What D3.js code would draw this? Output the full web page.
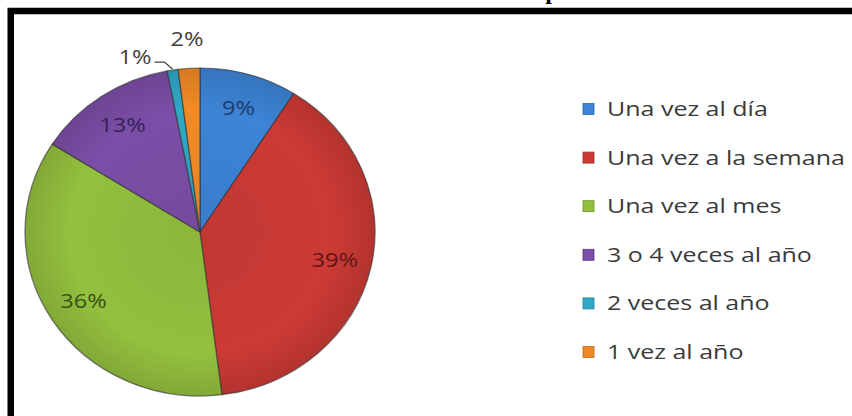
<!DOCTYPE html>
<html>
<head>
<meta charset="utf-8">
<script src="https://cdn.jsdelivr.net/npm/d3@7"></script>
<style>
  html, body { margin: 0; padding: 0; background: #fff; }
  svg { display: block; }
</style>
</head>
<body>
<div id="pie"></div>
<script>
// ---------------- data ----------------
const categories = ["Una vez al día", "Una vez a la semana", "Una vez al mes",
                    "3 o 4 veces al año", "2 veces al año", "1 vez al año"];
const values = [9, 39, 36, 13, 1, 2];
const colors = ["#3c84d6", "#cc3a35", "#93c03e", "#7b4ea7", "#2fa8c6", "#f18a26"];
const labelColors = ["#1d3a66", "#5e1614", "#36541a", "#352257", "#404040", "#404040"];

const width = 852, height = 416;
const cx = 200, cy = 232, R = 175, ry = 164;
const k = ry / R; // vertical squash (tilted pie)

const svg = d3.select("#pie").append("svg")
    .attr("width", width)
    .attr("height", height)
    .attr("viewBox", [0, 0, width, height]);

// title cut off at the top: only a descender shows
svg.append("text")
    .attr("x", 552).attr("y", -1)
    .attr("text-anchor", "middle")
    .attr("font-family", "'Liberation Serif', serif")
    .attr("font-weight", "bold")
    .attr("font-size", 24)
    .attr("fill", "#000")
    .text("p");

// frame (top and left edges visible)
svg.append("path")
    .attr("d", `M10.75,416 V11 H852`)
    .attr("fill", "none")
    .attr("stroke", "#000")
    .attr("stroke-width", 6.5);

// ---------------- gradients for slight 3D look ----------------
const defs = svg.append("defs");
colors.forEach((c, i) => {
  const g = defs.append("radialGradient")
      .attr("id", "g" + i)
      .attr("gradientUnits", "userSpaceOnUse")
      .attr("cx", 0).attr("cy", 0).attr("r", R);
  g.append("stop").attr("offset", "0%").attr("stop-color", d3.color(c).darker(0.15));
  g.append("stop").attr("offset", "75%").attr("stop-color", c);
  g.append("stop").attr("offset", "100%").attr("stop-color", d3.color(c).darker(0.35));
});

// ---------------- pie ----------------
const pie = d3.pie().sort(null).value(d => d)(values);
const arc = d3.arc().innerRadius(0).outerRadius(R);

const gPie = svg.append("g")
    .attr("transform", `translate(${cx},${cy}) scale(1,${k})`);

gPie.selectAll("path")
    .data(pie)
    .join("path")
    .attr("d", arc)
    .attr("fill", (d, i) => `url(#g${i})`)
    .attr("stroke", "#2e2e2e")
    .attr("stroke-opacity", 0.6)
    .attr("stroke-width", 1.3);

// ---------------- labels ----------------
const font = "'Open Sans', sans-serif";
const labelSize = 20;
const stretch = 1.18; // source font is wider than Open Sans at this height
const pt = (r, a) => [cx + r * Math.sin(a), cy - r * Math.cos(a) * k];

const gLab = svg.append("g")
    .attr("font-family", font)
    .attr("font-size", labelSize);

function label(x, y, anchor, i) {
  gLab.append("text")
      .attr("transform", `translate(${x},${y}) scale(${stretch},1)`)
      .attr("text-anchor", anchor)
      .attr("dy", "0.35em")
      .attr("fill", labelColors[i])
      .text(values[i] + "%");
}

// inside labels for large slices
pie.forEach((d, i) => {
  if (values[i] < 5) return;
  const a = (d.startAngle + d.endAngle) / 2;
  const [x, y] = pt(138, a);
  label(x, y, "middle", i);
});

// outside labels for small slices; a crowded one moves left with a leader line
const small = pie.map((d, i) => ({d, i})).filter(o => values[o.i] < 5);
let prevLeft = null;
for (let j = small.length - 1; j >= 0; j--) {
  const {d, i} = small[j];
  const mid = (d.startAngle + d.endAngle) / 2;
  const w = 32;
  let [x, y] = pt(206, mid);
  let anchor = "middle";
  if (prevLeft !== null && x + w / 2 > prevLeft - 4) {
    const [ex, ey] = pt(R + 1, mid);
    gLab.append("polyline")
        .attr("points", [[ex - 18, ey - 7], [ex - 8, ey - 7], [ex, ey]].map(p => p.join(",")).join(" "))
        .attr("fill", "none")
        .attr("stroke", "#404040")
        .attr("stroke-width", 1.3);
    x = ex - 21;
    y = ey - 12;
    anchor = "end";
  }
  label(x, y, anchor, i);
  prevLeft = anchor === "middle" ? x - w / 2 : x - w;
}

// ---------------- legend ----------------
const legend = svg.append("g")
    .attr("transform", "translate(583,109)");

const rowStep = 48.6;
const rows = legend.selectAll("g")
    .data(categories)
    .join("g")
    .attr("transform", (d, i) => `translate(0,${i * rowStep})`);

rows.append("rect")
    .attr("x", 0).attr("y", -5.5)
    .attr("width", 11).attr("height", 11)
    .attr("fill", (d, i) => colors[i])
    .attr("stroke", (d, i) => d3.color(colors[i]).darker(0.8))
    .attr("stroke-width", 0.8);

rows.append("text")
    .attr("transform", "translate(24,0) scale(1.25,1)")
    .attr("dy", "0.35em")
    .attr("font-family", font)
    .attr("font-size", 20)
    .attr("fill", "#3a3a3a")
    .text(d => d);
</script>
</body>
</html>
